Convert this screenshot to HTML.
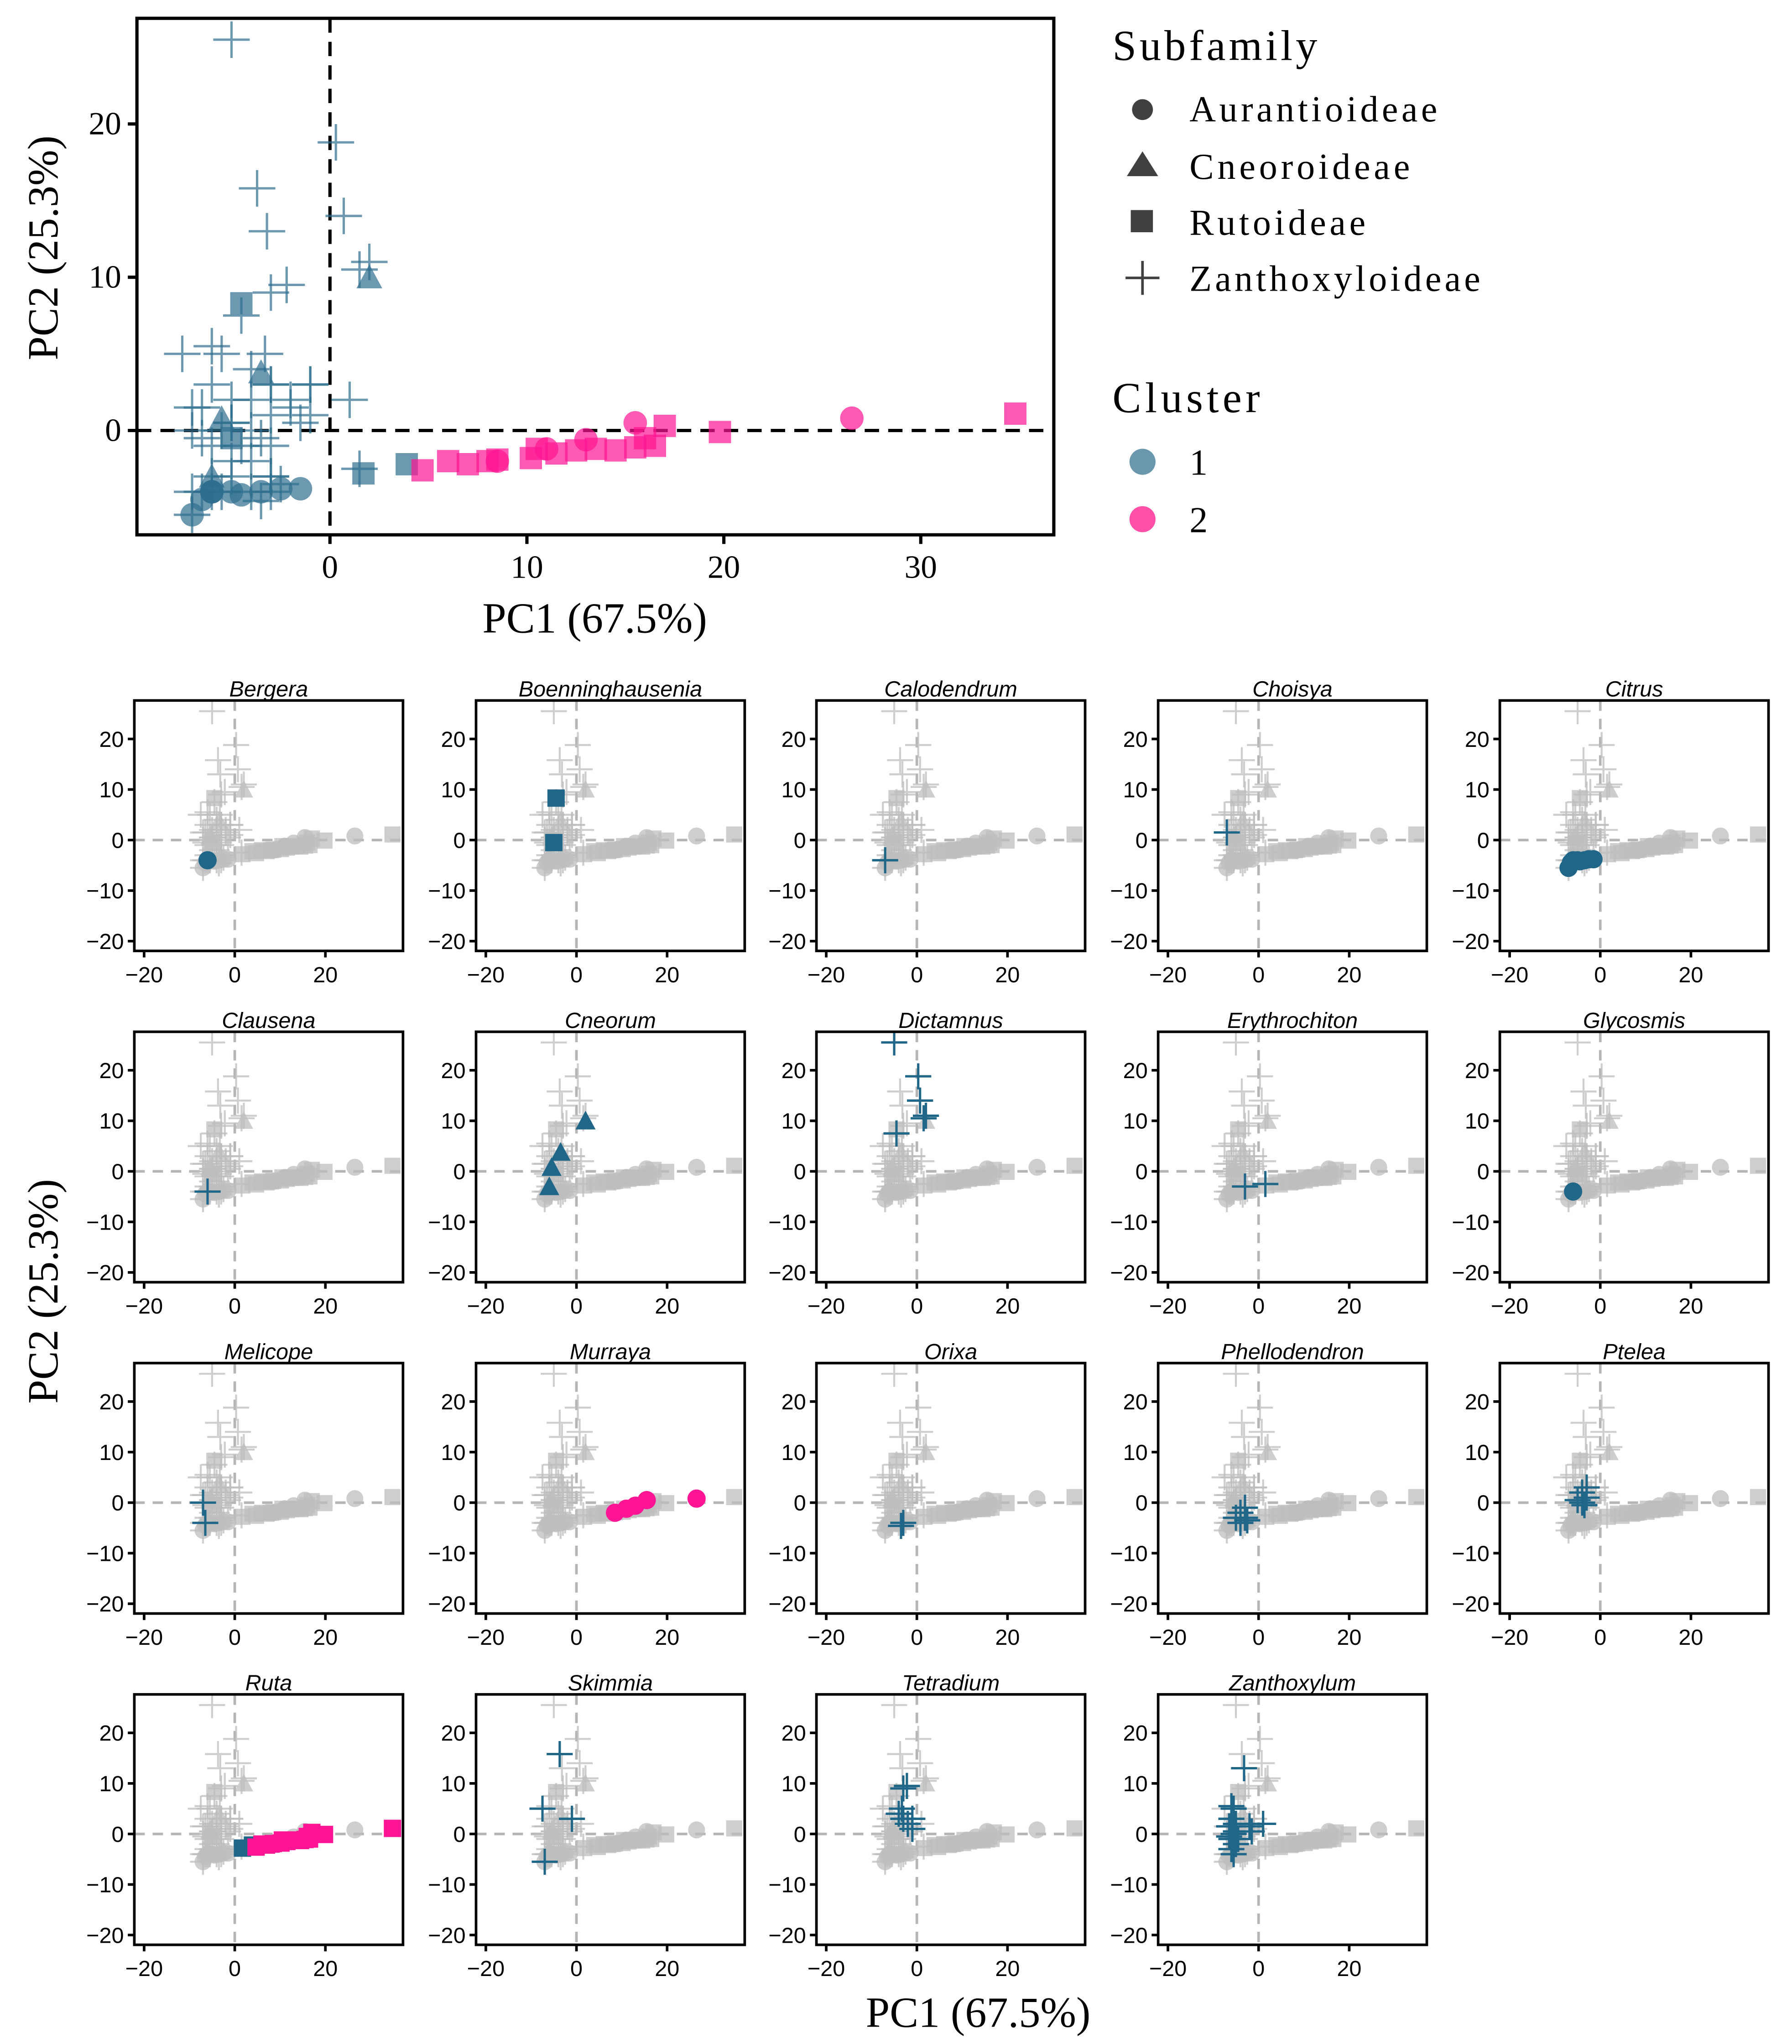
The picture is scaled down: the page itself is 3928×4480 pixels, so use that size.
<!DOCTYPE html>
<html><head><meta charset="utf-8"><style>
html,body{margin:0;padding:0;background:#fff;}
svg{display:block;}
.serif{font-family:"Liberation Serif",serif;}
.sans{font-family:"Liberation Sans",sans-serif;}
</style></head>
<body>
<svg id="fig" xmlns="http://www.w3.org/2000/svg" width="3928" height="4480" viewBox="0 0 1374 1567">
<rect x="0" y="0" width="1374" height="1567" fill="#fff"/>
<g id="main"></g>
<g id="legend" class="serif" fill="#000">
  <text x="853" y="46" font-size="33" textLength="157">Subfamily</text>
  <circle cx="876" cy="84" r="8" fill="#404040"/>
  <text x="912" y="93" font-size="28" textLength="190">Aurantioideae</text>
  <polygon points="864,135 876,116 888,135" fill="#404040"/>
  <text x="912" y="137" font-size="28" textLength="169">Cneoroideae</text>
  <rect x="867" y="161" width="17" height="17" fill="#404040"/>
  <text x="912" y="180" font-size="28" textLength="135">Rutoideae</text>
  <path d="M863 213 H889 M876 200 V226" stroke="#404040" stroke-width="2"/>
  <text x="912" y="223" font-size="28" textLength="223">Zanthoxyloideae</text>
  <text x="853" y="316" font-size="33" textLength="113">Cluster</text>
  <circle cx="876" cy="354" r="10" fill="#6a97ae"/>
  <text x="912" y="364" font-size="28">1</text>
  <circle cx="876" cy="398" r="10" fill="#ff4fa6"/>
  <text x="912" y="408" font-size="28">2</text>
</g>
<g id="facets"></g>
<text x="750" y="1554" font-size="33" class="serif" text-anchor="middle">PC1 (67.5%)</text>
<text transform="translate(44,990) rotate(-90)" font-size="33" class="serif" text-anchor="middle">PC2 (25.3%)</text>
</svg>
<script>
const genera = ["Bergera","Boenninghausenia","Calodendrum","Choisya","Citrus","Clausena","Cneorum","Dictamnus","Erythrochiton","Glycosmis","Melicope","Murraya","Orixa","Phellodendron","Ptelea","Ruta","Skimmia","Tetradium","Zanthoxylum"];
const pc1 = [-6, -4.5,-5, -7, -7, -7,-6.5,-6,-5,-4.5,-3.5,-2.5,-1.5, -6, 2,-3.5,-5.5,-6, -5,0.3,0.7,1.5,2,-4.5, -3,1.5, -6, -7,-6.5, 8.5,11,13,15.5,26.5, -3,-3.5, -4,-3,-3,-5,-2.5,-4, -4,-3,-4,-3,-5,-3.5, 1.7,3.9,4.7,6,7,8,8.5,10.2,10.5,11.5,12.5,13.5,14.5,15.5,16,16.5,17,19.8,34.8, -3.7,-7.5,-1,-7, -3,-3.3,-3,-1,-2,-1,-4,-2.2, -3.2,-6,-5.5,-6,-5,-6.5,-5.5,-6,-5,-6,-5.5,-4.5,-2,1,-1.5,-5,-6.5];
const pc2 = [-4, 8.3,-0.5, -4, 1.5, -5.5,-4.5,-4,-4,-4.2,-4,-3.8,-3.8, -4, 10,3.8,0.8,-3, 25.5,18.8,14,10.5,11,7.5, -3,-2.5, -4, 0,-4, -2,-1.2,-0.6,0.5,0.8, -4,-4.6, -2,-1,-3,-3,-3.5,-4, 0,3,2,1,0.5,-0.5, -2.8,-2.2,-2.6,-2,-2.2,-2,-1.9,-1.8,-1.2,-1.5,-1.3,-1.2,-1.3,-1.1,-0.5,-1,0.3,-0.1,1.1, 15.8,5,3,-5.5, 9,5,3,3,2,1,4,9.5, 13,5.5,5,3,2,1.5,0,-1,-2,-3,-4,-1,1.5,2,0.5,0.5,-0.5];
const shape = ["c", "s","s", "p", "p", "c","c","c","c","c","c","c","c", "p", "t","t","t","t", "p","p","p","p","p","p", "p","p", "c", "p","p", "c","c","c","c","c", "p","p", "p","p","p","p","p","p", "p","p","p","p","p","p", "s","s","s","s","s","s","s","s","s","s","s","s","s","s","s","s","s","s","s", "p","p","p","p", "p","p","p","p","p","p","p","p", "p","p","p","p","p","p","p","p","p","p","p","p","p","p","p","p","p"];
const cluster = [1, 1,1, 1, 1, 1,1,1,1,1,1,1,1, 1, 1,1,1,1, 1,1,1,1,1,1, 1,1, 1, 1,1, 2,2,2,2,2, 1,1, 1,1,1,1,1,1, 1,1,1,1,1,1, 1,1,2,2,2,2,2,2,2,2,2,2,2,2,2,2,2,2,2, 1,1,1,1, 1,1,1,1,1,1,1,1, 1,1,1,1,1,1,1,1,1,1,1,1,1,1,1,1,1];
const genusIdx = [0, 1,1, 2, 3, 4,4,4,4,4,4,4,4, 5, 6,6,6,6, 7,7,7,7,7,7, 8,8, 9, 10,10, 11,11,11,11,11, 12,12, 13,13,13,13,13,13, 14,14,14,14,14,14, 15,15,15,15,15,15,15,15,15,15,15,15,15,15,15,15,15,15,15, 16,16,16,16, 17,17,17,17,17,17,17,17, 18,18,18,18,18,18,18,18,18,18,18,18,18,18,18,18,18];
const mainXTicks = [0,10,20,30];
const mainYTicks = [0,10,20];
const facetXTicks = [-20,0,20];
const facetYTicks = [20,10,0,-10,-20];

const NS = "http://www.w3.org/2000/svg";
function mk(tag, attrs, parent){ const e=document.createElementNS(NS,tag); for(const k in attrs) e.setAttribute(k,attrs[k]); parent.appendChild(e); return e; }

function drawMark(g, sh, x, y, size, fill, opacity, name, plusHalf, plusW){
  let el;
  if(sh==="c"){ el=mk("circle",{cx:x,cy:y,r:size*0.5,fill:fill,"fill-opacity":opacity},g); }
  else if(sh==="s"){ const s=size*0.95; el=mk("rect",{x:x-s/2,y:y-s/2,width:s,height:s,fill:fill,"fill-opacity":opacity},g); }
  else if(sh==="t"){ const s=size*1.1; el=mk("polygon",{points:`${x-s/2},${y+s*0.43} ${x},${y-s*0.5} ${x+s/2},${y+s*0.43}`,fill:fill,"fill-opacity":opacity},g); }
  else { const h=plusHalf; el=mk("path",{d:`M${x-h} ${y} H${x+h} M${x} ${y-h} V${y+h}`,stroke:fill,"stroke-opacity":opacity,"stroke-width":plusW,fill:"none"},g); }
  
  
  return el;
}

// ---- Main plot ----
(function(){
  const g=document.getElementById("main");
  const L=105,R=808,T=14,B=410;
  const x0=253, xs=15.1, y0=330, ys=11.75;
  const X=v=>x0+v*xs, Y=v=>y0-v*ys;
  const clip=mk("clipPath",{id:"mainclip"},g); mk("rect",{x:L,y:T,width:R-L,height:B-T},clip);
  const pg=mk("g",{"clip-path":"url(#mainclip)"},g);
  
  
  let l1=mk("line",{x1:X(0),x2:X(0),y1:T,y2:B,stroke:"#000","stroke-width":2.5,"stroke-dasharray":"11,7"},pg);
   
  let l2=mk("line",{x1:L,x2:R,y1:Y(0),y2:Y(0),stroke:"#000","stroke-width":2.5,"stroke-dasharray":"11,7"},pg);
   
  for(let i=0;i<pc1.length;i++){
    const col = cluster[i]===1 ? "#2e6e8e" : "#ff1493";
    drawMark(pg, shape[i], X(pc1[i]), Y(pc2[i]), 18, col, 0.7, "main-point-"+genera[genusIdx[i]].toLowerCase(), 14, 1.8);
  }
  const fr=mk("rect",{x:L,y:T,width:R-L,height:B-T,fill:"none",stroke:"#000","stroke-width":2.5},g);
   
  mainXTicks.forEach(v=>{
    mk("line",{x1:X(v),x2:X(v),y1:B,y2:B+7,stroke:"#000","stroke-width":2.5},g);
    const t=mk("text",{x:X(v),y:B+33,"font-size":25,"text-anchor":"middle",class:"serif"},g); t.textContent=v;
     
  });
  mainYTicks.forEach(v=>{
    mk("line",{x1:L-7,x2:L,y1:Y(v),y2:Y(v),stroke:"#000","stroke-width":2.5},g);
    const t=mk("text",{x:L-12,y:Y(v)+8,"font-size":25,"text-anchor":"end",class:"serif"},g); t.textContent=v;
     
  });
  const xt=mk("text",{x:456,y:485,"font-size":33,"text-anchor":"middle",class:"serif"},g); xt.textContent="PC1 (67.5%)";
   
  const yt=mk("text",{transform:"translate(44,190) rotate(-90)","font-size":33,"text-anchor":"middle",class:"serif"},g); yt.textContent="PC2 (25.3%)";
   
})();

// ---- Facets ----
(function(){
  const root=document.getElementById("facets");
  const colL=[103,365,626,888,1150], rowT=[537,791,1045,1299];
  const W=206,H=192, xs=3.475, ys=3.875;
  genera.forEach((gen,k)=>{
    const L=colL[k%5], T=rowT[Math.floor(k/5)];
    const x0=L+77, y0=T+107;
    const X=v=>x0+v*xs, Y=v=>y0-v*ys;
    const g=mk("g",{},root);
    
    
    const cid="fc"+k;
    const clip=mk("clipPath",{id:cid},g); mk("rect",{x:L,y:T,width:W,height:H},clip);
    const pg=mk("g",{"clip-path":`url(#${cid})`},g);
    mk("line",{x1:X(0),x2:X(0),y1:T,y2:T+H,stroke:"#b5b5b5","stroke-width":2,"stroke-dasharray":"8,6"},pg);
    mk("line",{x1:L,x2:L+W,y1:Y(0),y2:Y(0),stroke:"#b5b5b5","stroke-width":2,"stroke-dasharray":"8,6"},pg);
    for(let i=0;i<pc1.length;i++){
      drawMark(pg, shape[i], X(pc1[i]), Y(pc2[i]), 13, "#bdbdbd", 0.75, "background-point", 10, 1.5);
    }
    for(let i=0;i<pc1.length;i++){
      if(genusIdx[i]!==k) continue;
      const col = cluster[i]===1 ? "#1f6688" : "#ff1493";
      drawMark(pg, shape[i], X(pc1[i]), Y(pc2[i]), 14, col, 1, "highlight-point-"+gen.toLowerCase(), 10, 1.8);
    }
    mk("rect",{x:L,y:T,width:W,height:H,fill:"none",stroke:"#000","stroke-width":2},g);
    const tt=mk("text",{x:L+W/2,y:T-3,"font-size":17,"font-style":"italic","text-anchor":"middle",class:"sans"},g); tt.textContent=gen;
     
    facetXTicks.forEach(v=>{
      mk("line",{x1:X(v),x2:X(v),y1:T+H,y2:T+H+5,stroke:"#000","stroke-width":2},g);
      const t=mk("text",{x:X(v),y:T+H+24,"font-size":17,"text-anchor":"middle",class:"sans"},g); t.textContent=v<0?"\u2212"+(-v):v;
       
    });
    facetYTicks.forEach(v=>{
      mk("line",{x1:L-5,x2:L,y1:Y(v),y2:Y(v),stroke:"#000","stroke-width":2},g);
      const t=mk("text",{x:L-8,y:Y(v)+6,"font-size":17,"text-anchor":"end",class:"sans"},g); t.textContent=v<0?"\u2212"+(-v):v;
       
    });
  });
})();
</script>
</body></html>
